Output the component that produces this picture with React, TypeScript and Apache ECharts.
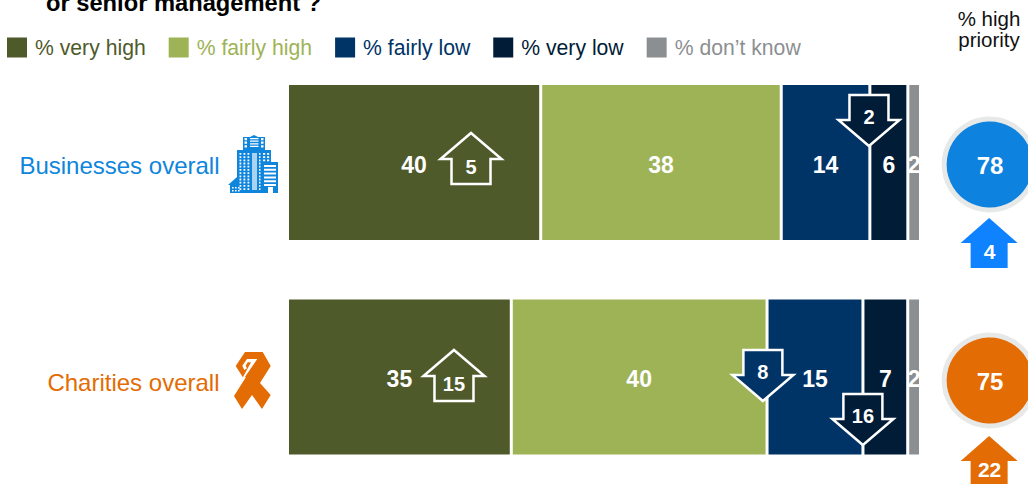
import React, { useEffect, useRef } from "react";
import * as echarts from "echarts";

const categories = ["Businesses overall", "Charities overall"];
const categoryColors = ["#0F85DC", "#E36C04"];
const seriesNames = ["% very high", "% fairly high", "% fairly low", "% very low", "% don\u2019t know"];
const seriesColors = ["#4F5A2B", "#9DB356", "#003366", "#001C36", "#8C8F92"];
const businesses = [40, 38, 14, 6, 2];
const charities = [35, 40, 15, 7, 2];
const rows = [businesses, charities];
const highPriority = [78, 75];
const priorityChange = [4, 22];
const arrowFillsSolid = ["#0F82FF", "#E36C04"];
const circleFills = ["#0E82DF", "#E36C04"];
// [x on the axis, category index, change, direction, colour index or -1 for outline, pixel offset of tip from band centre]
const segmentChanges: [number, number, number, string, number, number][] = [
  [28.99, 0, 5, "up", -1, -29.5],
  [91.86, 0, 2, "down", 3, -16.5],
  [26.3, 1, 15, "up", -1, -27],
  [75.1, 1, 8, "down", 2, 24],
  [90.9, 1, 16, "down", 3, 68],
];
const priorityX = 111;

const FONT = '"Liberation Sans", Arial, sans-serif';

const buildingWindows = () => {
  let d = "";
  const r = (x: number, y: number, w: number, h: number) => {
    d += `M${x} ${y}h${w}v${h}h${-w}Z`;
  };
  for (let y = 138; y < 148; y += 2.6) r(250, y, 8.5, 1.2);
  for (let y = 138; y < 148; y += 3.6) {
    r(244.5, y, 2.5, 2.2);
    r(261, y, 2.5, 2.2);
  }
  for (let y = 153; y < 190; y += 3.2) {
    r(239.5, y, 1.8, 1.8);
    r(243.5, y, 1.8, 1.8);
    r(247.5, y, 1.8, 1.8);
    r(259, y, 1.5, 1.8);
  }
  for (let y = 153; y < 161; y += 3.2) {
    r(263, y, 2.2, 1.8);
    r(267, y, 2.2, 1.8);
  }
  for (let y = 165; y < 186; y += 3.8) r(264, y, 12, 2);
  r(232, 187, 1.6, 1.6);
  r(235, 187, 1.6, 1.6);
  r(238, 187, 1.6, 1.6);
  r(232, 190, 1.6, 1.6);
  r(235, 190, 1.6, 1.6);
  r(238, 190, 1.6, 1.6);
  return d;
};

const buildingBodyFull =
  "M243 137L250 137L254 135L258 137L265 137L265 150L271 150L271 162L278 162L278 193L273 193L273 187L268 187L268 193L230 193L230 185L228 185L237 177L237 150L243 150Z";
const buildingStrip = "M252 153L257 153L257 190L252 190Z";
const ribbonBody =
  "M245 352L262.7 352L270.7 366L260 383L270.7 395L262 409L252 395L242 409L234 396L246 377L242.7 377L235.7 366Z";
const ribbonGap = "M247 359L257.3 359L244 378.3L243 377L251 362.3L247.7 362.3L245.7 365.7L247 368.3L244.3 370L242.3 365.7Z";

echarts.graphic.registerShape("buildingSolid", echarts.graphic.extendPath(buildingBodyFull, {}) as any);
echarts.graphic.registerShape("buildingWindows", echarts.graphic.extendPath(buildingWindows(), {}) as any);
echarts.graphic.registerShape("buildingStrip", echarts.graphic.extendPath(buildingStrip, {}) as any);
echarts.graphic.registerShape("ribbonBody", echarts.graphic.extendPath(ribbonBody, {}) as any);
echarts.graphic.registerShape("ribbonGap", echarts.graphic.extendPath(ribbonGap, {}) as any);

function arrowPoints(cx: number, tip: number, dir: number, wing: number, shaft: number, head: number, total: number) {
  return [
    [cx, tip],
    [cx + wing, tip + dir * head],
    [cx + shaft, tip + dir * head],
    [cx + shaft, tip + dir * total],
    [cx - shaft, tip + dir * total],
    [cx - shaft, tip + dir * head],
    [cx - wing, tip + dir * head],
  ];
}

export default function App() {
  const ref = useRef<HTMLDivElement>(null);
  useEffect(() => {
    const chart = echarts.init(ref.current!, undefined, { renderer: "svg" });
    const barSeries = seriesNames.map((name, s) => ({
      name,
      type: "bar" as const,
      stack: "total",
      barWidth: 158,
      itemStyle: { color: seriesColors[s], borderColor: "#fff", borderWidth: 1.5 },
      label: {
        show: true,
        position: "inside" as const,
        offset: [0, 2],
        color: "#fff",
        fontFamily: FONT,
        fontWeight: "bold" as const,
        fontSize: 23,
        formatter: (p: any) => String(rows[p.dataIndex][s]),
      },
      // each row is drawn as its share of the row total, the label shows the published figure
      data: rows.map((r) => (r[s] * 100) / r.reduce((a, b) => a + b, 0)),
    }));

    chart.setOption({
      animation: false,
      title: {
        text: "or senior management ?",
        left: 46,
        top: -9,
        padding: 0,
        textStyle: { fontFamily: FONT, fontWeight: "bold", fontSize: 23.7, color: "#000" },
      },
      legend: {
        data: seriesNames.map((name, i) => ({
          name,
          textStyle: { color: seriesColors[i] },
        })),
        left: 7,
        top: 37,
        padding: 0,
        itemWidth: 20,
        itemHeight: 20,
        itemGap: 23,
        icon: "rect",
        itemStyle: { borderWidth: 0 },
        selectedMode: false,
        textStyle: { fontFamily: FONT, fontSize: 21.2, padding: [0, 0, 0, 3] },
      },
      grid: { left: 287.5, top: 55.25, width: 759.6, height: 429, outerBoundsMode: "none" },
      xAxis: { type: "value", min: 0, max: 120, show: false },
      yAxis: {
        type: "category",
        inverse: true,
        data: categories,
        axisLine: { show: false },
        axisTick: { show: false },
        axisLabel: {
          margin: 68,
          formatter: (v: string) => (v === categories[0] ? `{a|${v}}` : `{b|${v}}`),
          rich: {
            a: { fontFamily: FONT, fontSize: 24, color: categoryColors[0], padding: [5, 0, 0, 0] },
            b: { fontFamily: FONT, fontSize: 24, color: categoryColors[1], padding: [10, 0, 0, 0] },
          },
        },
      },
      series: [
        ...barSeries,
        {
          type: "custom",
          name: "segmentChange",
          z: 5,
          silent: true,
          encode: { x: 0, y: 1 },
          data: segmentChanges.map((d) => ({ value: [d[0], d[1]] })),
          renderItem: (params: any, api: any) => {
            const d = segmentChanges[params.dataIndex];
            const [cx, cy] = api.coord([api.value(0), api.value(1)]);
            const tip = cy + d[5];
            const up = d[3] === "up";
            const dir = up ? 1 : -1;
            const fill = d[4] < 0 ? "transparent" : seriesColors[d[4]];
            return {
              type: "group",
              children: [
                {
                  type: "polygon",
                  shape: { points: arrowPoints(cx, tip, dir, 30.5, 19.5, 26, 51) },
                  style: { fill, stroke: "#fff", lineWidth: 2.5 },
                },
                {
                  type: "text",
                  style: {
                    text: String(d[2]),
                    x: cx,
                    y: tip + (up ? 34 : -29.5),
                    fill: "#fff",
                    align: "center",
                    verticalAlign: "middle",
                    font: `bold 20px ${FONT}`,
                  },
                },
              ],
            };
          },
        },
        {
          type: "custom",
          name: "highPriority",
          z: 5,
          silent: true,
          encode: { x: 0, y: 1 },
          data: highPriority.map((_, i) => ({ value: [priorityX, i] })),
          renderItem: (params: any, api: any) => {
            const i = params.dataIndex;
            const [cx, cy] = api.coord([api.value(0), api.value(1)]);
            const cyy = cy + (i === 0 ? 2 : 3.5);
            const tip = cy + (i === 0 ? 55.5 : 59);
            return {
              type: "group",
              children: [
                {
                  type: "circle",
                  shape: { cx: cx - 0.5, cy: cyy, r: 45.5 },
                  style: { fill: circleFills[i], stroke: "#E7E8E8", lineWidth: 5 },
                },
                {
                  type: "text",
                  style: {
                    text: String(highPriority[i]),
                    x: cx,
                    y: cyy + 1,
                    fill: "#fff",
                    align: "center",
                    verticalAlign: "middle",
                    font: `bold 24px ${FONT}`,
                  },
                },
                {
                  type: "polygon",
                  shape: { points: arrowPoints(cx - 1, tip, 1, 28.5, 18.5, 25, 50) },
                  style: { fill: arrowFillsSolid[i] },
                },
                {
                  type: "text",
                  style: {
                    text: String(priorityChange[i]),
                    x: cx - 0.5,
                    y: tip + 33,
                    fill: "#fff",
                    align: "center",
                    verticalAlign: "middle",
                    font: `bold 21px ${FONT}`,
                  },
                },
              ],
            };
          },
        },
      ],
      graphic: [
        {
          type: "text",
          x: 989,
          y: 8,
          style: {
            text: "% high",
            fill: "#111",
            align: "center",
            font: `20.5px ${FONT}`,
          },
        },
        {
          type: "text",
          x: 989,
          y: 29,
          style: {
            text: "priority",
            fill: "#111",
            align: "center",
            font: `20.5px ${FONT}`,
          },
        },
        { type: "buildingSolid", style: { fill: categoryColors[0] } },
        { type: "buildingStrip", style: { fill: "#A9D3F3" } },
        { type: "buildingWindows", style: { fill: "#fff" } },
        { type: "ribbonBody", style: { fill: categoryColors[1] } },
        { type: "ribbonGap", style: { fill: "#fff" } },
      ],
    });
    return () => chart.dispose();
  }, []);
  return (
    <div
      ref={ref}
      style={{ position: "absolute", left: 0, top: 0, width: 1028, height: 484 }}
    />
  );
}
